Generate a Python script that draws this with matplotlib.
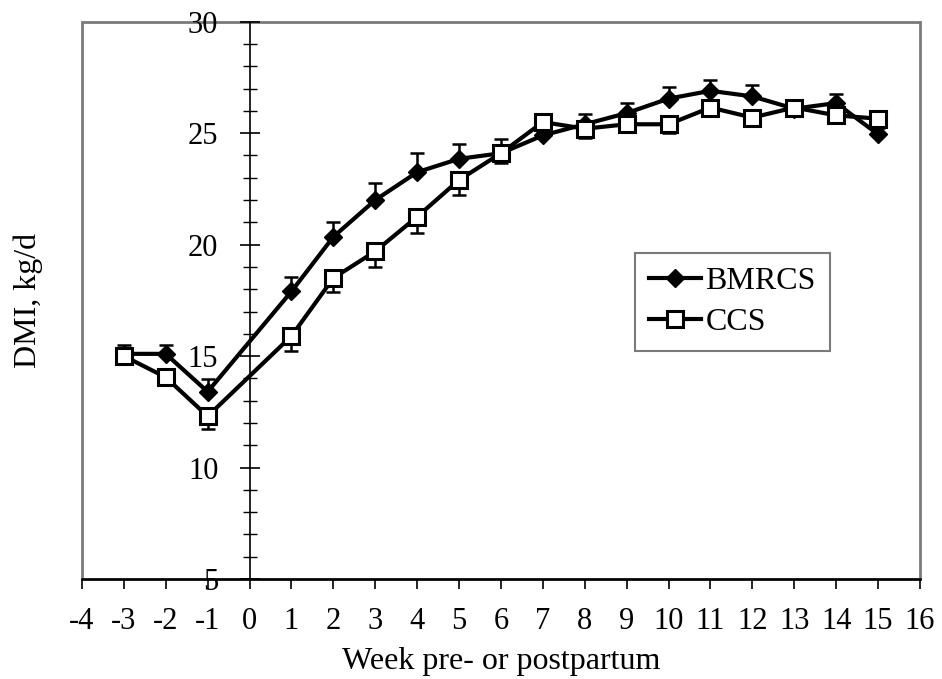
import matplotlib
matplotlib.use('Agg')
import matplotlib.pyplot as plt
from matplotlib.patches import Rectangle
from matplotlib.ticker import MultipleLocator

plt.rcParams['font.family'] = ['Liberation Serif', 'DejaVu Serif']
plt.rcParams['axes.unicode_minus'] = False

# weeks relative to calving (no week 0)
weeks = [-3, -2, -1, 1, 2, 3, 4, 5, 6, 7, 8, 9, 10, 11, 12, 13, 14, 15]

bmrcs = [15.1, 15.1, 13.4, 17.9, 20.35, 22.0, 23.25, 23.85, 24.1, 24.9,
         25.4, 25.9, 26.55, 26.9, 26.65, 26.1, 26.35, 24.95]
bmrcs_se = [0.4, 0.4, 0.55, 0.67, 0.67, 0.78, 0.87, 0.66, 0.63, 0.5,
            0.45, 0.45, 0.5, 0.48, 0.5, 0.4, 0.4, 0.3]

ccs = [15.0, 14.05, 12.3, 15.9, 18.5, 19.7, 21.25, 22.9, 24.1, 25.5,
       25.2, 25.4, 25.4, 26.15, 25.7, 26.15, 25.8, 25.65]
ccs_se = [0.3, 0.3, 0.55, 0.67, 0.63, 0.72, 0.75, 0.67, 0.42, 0.4,
          0.4, 0.35, 0.4, 0.4, 0.35, 0.35, 0.35, 0.3]

fig = plt.figure(figsize=(9.42, 6.79), dpi=100)
ax = fig.add_axes([0.087, 0.1473, 0.8896, 0.8207])

zeros = [0] * len(weeks)

# error bars: upper for BMRCS, lower for CCS
ax.errorbar(weeks, bmrcs, yerr=[zeros, bmrcs_se], fmt='none', ecolor='black',
            elinewidth=1.8, capsize=5, capthick=1.8, zorder=2)
ax.errorbar(weeks, ccs, yerr=[ccs_se, zeros], fmt='none', ecolor='black',
            elinewidth=1.8, capsize=5, capthick=1.8, zorder=2)

ax.plot(weeks, bmrcs, color='black', lw=3, marker='D', ms=9,
        mfc='black', mec='black', label='BMRCS', zorder=3)
ax.plot(weeks, ccs, color='black', lw=3, marker='s', ms=11.5,
        mfc='white', mec='black', mew=2.2, label='CCS', zorder=4)

ax.set_xlim(-4, 16)
ax.set_ylim(5, 30)
ax.xaxis.set_major_locator(MultipleLocator(1))
ax.yaxis.set_major_locator(MultipleLocator(5))
ax.yaxis.set_minor_locator(MultipleLocator(1))

# y axis sits at week 0, plot area framed in gray
ax.spines['left'].set_position(('data', 0))
ax.spines['left'].set_linewidth(1.2)
ax.spines['bottom'].set_linewidth(1.8)
ax.spines['top'].set_visible(False)
ax.spines['right'].set_visible(False)
ax.add_patch(Rectangle((0, 0), 1, 1, transform=ax.transAxes, fill=False,
                       edgecolor='#7a7a7a', lw=2, clip_on=False, zorder=0))

ax.tick_params(axis='x', direction='out', length=7, width=1.2, pad=13,
               labelsize=22)
ax.tick_params(axis='y', which='major', direction='inout', length=15,
               width=1.2, pad=15, labelsize=22)
ax.tick_params(axis='y', which='minor', direction='inout', length=9.5,
               width=1.0)

ax.set_xlabel('Week pre- or postpartum', fontsize=23, labelpad=8)
ax.set_ylabel('DMI, kg/d', fontsize=23)
ax.yaxis.set_label_coords(-0.046, 0.5)

leg = ax.legend(loc='upper left', bbox_to_anchor=(0.66, 0.5855),
                borderaxespad=0, fontsize=23, fancybox=False, framealpha=1,
                edgecolor='#7a7a7a', handlelength=1.6, handletextpad=0.15,
                labelspacing=0.35, borderpad=0.45)
leg.get_frame().set_linewidth(1.5)

fig.savefig('out.png', dpi=100)
